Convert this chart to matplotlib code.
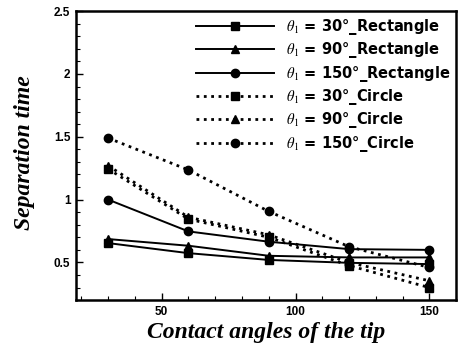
import matplotlib
matplotlib.use('Agg')
import matplotlib.pyplot as plt
from matplotlib.ticker import MultipleLocator

# tip contact angles (x axis)
angles = [30, 60, 90, 120, 150]

# separation time
rect_30 = [0.654, 0.574, 0.52, 0.497, 0.487]
rect_90 = [0.686, 0.633, 0.553, 0.54, 0.54]
rect_150 = [1.0, 0.747, 0.665, 0.606, 0.60]
circ_30 = [1.244, 0.845, 0.70, 0.475, 0.30]
circ_90 = [1.27, 0.86, 0.72, 0.50, 0.354]
circ_150 = [1.49, 1.236, 0.906, 0.625, 0.46]

labels = [r'$\theta_1$ = 30°_Rectangle', r'$\theta_1$ = 90°_Rectangle',
          r'$\theta_1$ = 150°_Rectangle', r'$\theta_1$ = 30°_Circle',
          r'$\theta_1$ = 90°_Circle', r'$\theta_1$ = 150°_Circle']

plt.rcParams['font.family'] = ['Liberation Sans', 'DejaVu Sans']
plt.rcParams['mathtext.fontset'] = 'stix'

fig = plt.figure(figsize=(4.58, 3.47), dpi=100)
ax = fig.add_axes([0.166, 0.135, 0.83, 0.833])

series = [rect_30, rect_90, rect_150, circ_30, circ_90, circ_150]
markers = ['s', '^', 'o', 's', '^', 'o']
for i, (ys, m, lab) in enumerate(zip(series, markers, labels)):
    ls = '-' if i < 3 else ':'
    lw = 1.4 if i < 3 else 2.0
    ax.plot(angles, ys, color='black', linestyle=ls, linewidth=lw,
            marker=m, markersize=6, label=lab)

ax.set_xlim(18, 160)
ax.set_ylim(0.2, 2.5)
ax.xaxis.set_major_locator(MultipleLocator(50))
ax.xaxis.set_minor_locator(MultipleLocator(10))
ax.yaxis.set_major_locator(MultipleLocator(0.5))
ax.yaxis.set_minor_locator(MultipleLocator(0.1))
ax.tick_params(which='both', direction='in', top=False, right=False,
               labelsize=8.5, pad=4)
ax.tick_params(which='major', length=5, width=1)
ax.tick_params(which='minor', length=3, width=0.8)
ax.set_yticks([0.5, 1, 1.5, 2, 2.5])
ax.set_yticklabels(['0.5', '1', '1.5', '2', '2.5'])
for lbl in ax.get_xticklabels() + ax.get_yticklabels():
    lbl.set_fontweight('bold')
for sp in ax.spines.values():
    sp.set_linewidth(1.8)

ax.set_xlabel('Contact angles of the tip', fontsize=17, fontweight='bold',
              fontstyle='italic', family='Liberation Serif', labelpad=3)
ax.set_ylabel('Separation time', fontsize=17, fontweight='bold',
              fontstyle='italic', family='Liberation Serif', labelpad=4)
ax.yaxis.set_label_coords(-0.108, 0.51)

leg = ax.legend(loc='upper right', frameon=False, handlelength=5.4,
                handletextpad=0.8, labelspacing=0.23, borderaxespad=0.0,
                prop={'size': 10.5, 'weight': 'bold', 'family': 'DejaVu Sans'})

fig.savefig('out.png', dpi=100)
